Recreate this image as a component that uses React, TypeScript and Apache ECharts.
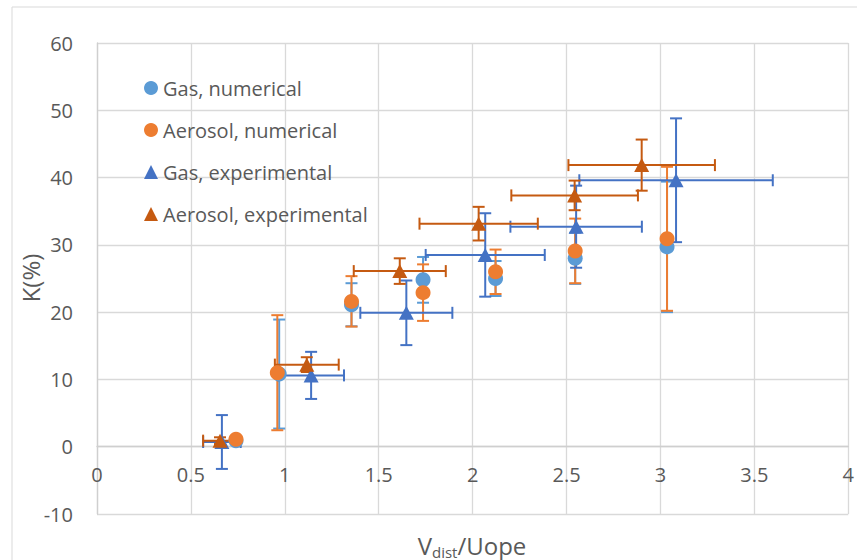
import React, { useEffect, useRef } from "react";
import * as echarts from "echarts";

// ---- Data ----
const gasNumX = [0.74, 0.97, 1.355, 1.736, 2.122, 2.546, 3.035];
const gasNumY = [0.9, 10.8, 21.1, 24.8, 25.0, 28.0, 29.7];
const gasNumYErr = [0, 8.1, 3.2, 3.4, 2.6, 3.8, 9.7];

const aerNumX = [0.74, 0.96, 1.355, 1.736, 2.122, 2.546, 3.035];
const aerNumY = [1.1, 11.0, 21.6, 22.9, 26.0, 29.1, 30.9];
const aerNumYErr = [0, 8.55, 3.75, 4.2, 3.3, 4.8, 10.7];

const gasExpX = [0.665, 1.14, 1.647, 2.067, 2.551, 3.083];
const gasExpY = [0.7, 10.6, 19.9, 28.5, 32.7, 39.6];
const gasExpXErr = [0.1, 0.175, 0.245, 0.317, 0.35, 0.515];
const gasExpYErr = [4.0, 3.5, 4.8, 6.2, 6.1, 9.2];

const aerExpX = [0.655, 1.117, 1.612, 2.032, 2.543, 2.9];
const aerExpY = [0.9, 12.2, 26.1, 33.15, 37.35, 41.85];
const aerExpXErr = [0.09, 0.17, 0.245, 0.315, 0.337, 0.39];
const aerExpYErr = [0.5, 1.1, 1.9, 2.5, 2.2, 3.8];

const seriesNames = [
  "Gas, numerical",
  "Aerosol, numerical",
  "Gas, experimental",
  "Aerosol, experimental",
];
const seriesColors = ["#5B9BD5", "#ED7D31", "#4472C4", "#C55A11"];

const FONT = "'Open Sans', 'Liberation Sans', sans-serif";
const TXT = "#595959";

function buildData(xs: number[], ys: number[], xe: number[] | null, ye: number[]) {
  return xs.map((x, i) => [x, ys[i], xe ? xe[i] : 0, ye[i]]);
}

function errSeries(name: string, color: string, data: number[][]) {
  return {
    type: "custom",
    name,
    data,
    encode: { x: 0, y: 1 },
    silent: true,
    clip: false,
    renderItem: (params: any, api: any) => {
      const x = api.value(0);
      const y = api.value(1);
      const xe = api.value(2);
      const ye = api.value(3);
      const c = 6;
      const st = { stroke: color, lineWidth: 2 };
      const children: any[] = [];
      if (ye > 0) {
        const t = api.coord([x, y + ye]);
        const b = api.coord([x, y - ye]);
        children.push({ type: "line", shape: { x1: t[0], y1: t[1], x2: b[0], y2: b[1] }, style: st });
        children.push({ type: "line", shape: { x1: t[0] - c, y1: t[1], x2: t[0] + c, y2: t[1] }, style: st });
        children.push({ type: "line", shape: { x1: b[0] - c, y1: b[1], x2: b[0] + c, y2: b[1] }, style: st });
      }
      if (xe > 0) {
        const l = api.coord([x - xe, y]);
        const r = api.coord([x + xe, y]);
        children.push({ type: "line", shape: { x1: l[0], y1: l[1], x2: r[0], y2: r[1] }, style: st });
        children.push({ type: "line", shape: { x1: l[0], y1: l[1] - c, x2: l[0], y2: l[1] + c }, style: st });
        children.push({ type: "line", shape: { x1: r[0], y1: r[1] - c, x2: r[0], y2: r[1] + c }, style: st });
      }
      return { type: "group", children };
    },
  };
}

function scatterSeries(name: string, color: string, data: number[][], symbol: string, size: any) {
  return {
    type: "scatter",
    name,
    data: data.map((d) => [d[0], d[1]]),
    symbol,
    symbolSize: size,
    itemStyle: { color, opacity: 1 },
    emphasis: { disabled: true },
  };
}

export default function App() {
  const ref = useRef<HTMLDivElement>(null);
  useEffect(() => {
    if (!ref.current) return;
    const chart = echarts.init(ref.current, null, { renderer: "svg" });
    const d1 = buildData(gasNumX, gasNumY, null, gasNumYErr);
    const d2 = buildData(aerNumX, aerNumY, null, aerNumYErr);
    const d3 = buildData(gasExpX, gasExpY, gasExpXErr, gasExpYErr);
    const d4 = buildData(aerExpX, aerExpY, aerExpXErr, aerExpYErr);
    const circle = 15;
    const tri = [15, 14];
    const gridTop = 43;
    const gridBottom = 46;
    const plotH = 560 - gridTop - gridBottom;
    const yMin = -10;
    const yMax = 60;
    // shift the x axis (line + labels) up to the y = 0 level
    const xAxisOffset = -((0 - yMin) / (yMax - yMin)) * plotH;
    chart.setOption({
      animation: false,
      backgroundColor: "#ffffff",
      grid: { left: 97, right: 8, top: gridTop, bottom: gridBottom, containLabel: false },
      xAxis: {
        type: "value",
        min: 0,
        max: 4,
        interval: 0.5,
        offset: xAxisOffset,
        axisLine: { show: true, onZero: false, lineStyle: { color: "#cfcfcf", width: 1.3 } },
        axisTick: { show: false },
        axisLabel: { color: TXT, fontFamily: FONT, fontSize: 20, margin: 18 },
        splitLine: { show: true, lineStyle: { color: "#d9d9d9", width: 1.3 } },
      },
      yAxis: {
        type: "value",
        min: yMin,
        max: yMax,
        interval: 10,
        axisLine: { show: true, onZero: true, lineStyle: { color: "#cfcfcf", width: 1.3 } },
        axisTick: { show: false },
        axisLabel: { color: TXT, fontFamily: FONT, fontSize: 20, margin: 24 },
        splitLine: { show: true, lineStyle: { color: "#d9d9d9", width: 1.3 } },
      },
      legend: {
        orient: "vertical",
        left: 139,
        top: 72,
        itemWidth: 14,
        itemHeight: 14,
        itemGap: 20,
        selectedMode: false,
        textStyle: { color: TXT, fontFamily: FONT, fontSize: 20, lineHeight: 22 },
        data: [
          { name: seriesNames[0], icon: "circle" },
          { name: seriesNames[1], icon: "circle" },
          { name: seriesNames[2], icon: "triangle" },
          { name: seriesNames[3], icon: "triangle" },
        ],
      },
      graphic: [
        {
          type: "rect",
          shape: { x: 12, y: 7, width: 900, height: 600 },
          style: { fill: "none", stroke: "#d9d9d9", lineWidth: 1 },
          silent: true,
          z: -10,
        },
        {
          type: "text",
          x: 30,
          y: 278,
          rotation: Math.PI / 2,
          style: {
            text: "K(%)",
            fill: TXT,
            fontFamily: FONT,
            fontSize: 24,
            align: "center",
            verticalAlign: "middle",
          },
        },
        {
          type: "text",
          x: 472,
          y: 545,
          style: {
            text: "{a|V}{b|dist}{a|/Uope}",
            fill: TXT,
            fontFamily: FONT,
            align: "center",
            verticalAlign: "middle",
            rich: {
              a: { fontFamily: FONT, fontSize: 24, lineHeight: 28, fill: TXT, verticalAlign: "middle" },
              b: { fontFamily: FONT, fontSize: 15, lineHeight: 16, fill: TXT, verticalAlign: "bottom" },
            },
          },
        },
      ],
      series: [
        errSeries("err0", seriesColors[0], d1),
        scatterSeries(seriesNames[0], seriesColors[0], d1, "circle", circle),
        errSeries("err1", seriesColors[1], d2),
        scatterSeries(seriesNames[1], seriesColors[1], d2, "circle", circle),
        errSeries("err2", seriesColors[2], d3),
        scatterSeries(seriesNames[2], seriesColors[2], d3, "triangle", tri),
        errSeries("err3", seriesColors[3], d4),
        scatterSeries(seriesNames[3], seriesColors[3], d4, "triangle", tri),
      ],
    });
    return () => chart.dispose();
  }, []);
  return (
    <div
      ref={ref}
      style={{ position: "fixed", left: 0, top: 0, width: 857, height: 560, background: "#fff" }}
    />
  );
}
